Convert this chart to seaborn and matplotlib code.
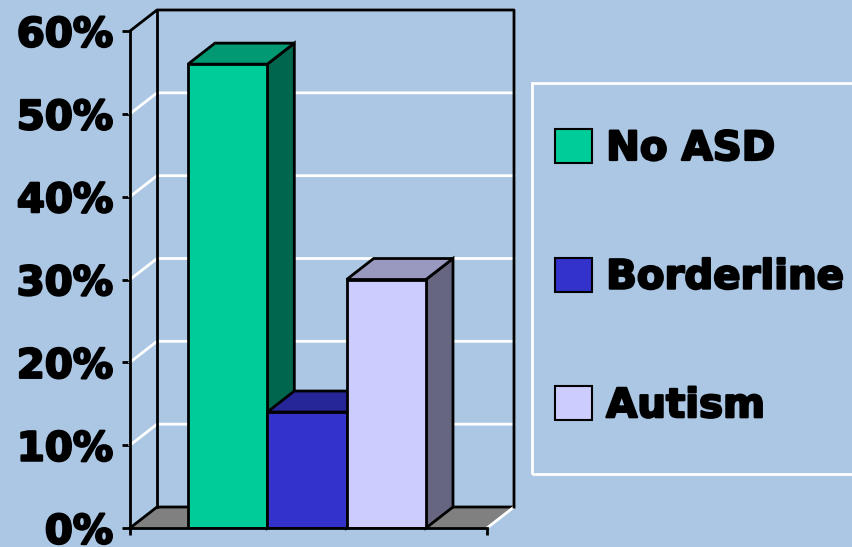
import matplotlib
matplotlib.use("Agg")
import matplotlib.pyplot as plt
import matplotlib.patheffects as pe
from matplotlib.patches import Patch, Polygon, Rectangle
import pandas as pd
import seaborn as sns

CATEGORIES = ["No ASD", "Borderline", "Autism"]
SHARES = [0.56, 0.14, 0.30]
FRONT_COLORS = ["#00CC99", "#3333CC", "#CCCCFF"]
SIDE_COLORS = ["#00664C", "#1A1A66", "#666680"]
TOP_COLORS = ["#009973", "#262699", "#9999BF"]
Y_TICKS = [0.0, 0.1, 0.2, 0.3, 0.4, 0.5, 0.6]
Y_TICK_LABELS = ["0%", "10%", "20%", "30%", "40%", "50%", "60%"]

BG = "#ABC7E4"
DEPTH = (27, 21)  # 3D depth offset in pixels (right, up)
FONT = {"family": "DejaVu Sans", "weight": "bold", "size": 29}
HEAVY = [pe.withStroke(linewidth=1.6, foreground="black")]

sns.set_style("white")
plt.rcParams["font.family"] = ["DejaVu Sans"]
plt.rcParams["text.color"] = "black"

fig = plt.figure(figsize=(8.52, 5.47), dpi=100)
fig.patch.set_facecolor(BG)
W, H = 852, 547
ax = fig.add_axes([130 / W, (H - 528) / H, (487 - 130) / W, (528 - 31) / H])
ax.set_facecolor("none")

df = pd.DataFrame({"group": CATEGORIES, "share": SHARES})
sns.barplot(data=df, x="group", y="share", hue="group", palette=FRONT_COLORS,
            saturation=1, width=1.0, edgecolor="black", linewidth=2, legend=False, ax=ax)

xl, xr = -1.231, 3.269
ax.set_xlim(xl, xr)
ax.set_ylim(0, 0.6)


def back(x, y):
    px = ax.transData.transform((x, y))
    return tuple(ax.transData.inverted().transform((px[0] + DEPTH[0], px[1] + DEPTH[1])))


def line(pts, color, z, lw=2):
    xs, ys = zip(*pts)
    ax.plot(xs, ys, color=color, lw=lw, zorder=z, clip_on=False, solid_capstyle="projecting")


# floor
floor = Polygon([(xl, 0), (xr, 0), back(xr, 0), back(xl, 0)], closed=True,
                facecolor="#808080", edgecolor="none", zorder=0.5, clip_on=False)
ax.add_patch(floor)
line([(xl, 0), back(xl, 0), back(xr, 0)], "black", 0.7)
line([(xr, 0), back(xr, 0)], "white", 0.7)

# gridlines on side and back walls
for t in Y_TICKS[1:-1]:
    line([(xl, t), back(xl, t), back(xr, t)], "white", 0.6)

# back wall outline
line([(xl, 0.6), back(xl, 0.6), back(xr, 0.6), back(xr, 0)], "black", 0.8)
line([back(xl, 0), back(xl, 0.6)], "black", 0.8)

# 3D faces of the bars, built from the seaborn bar patches
for i, bar in enumerate(ax.patches[:len(CATEGORIES)]):
    x0 = bar.get_x()
    x1 = x0 + bar.get_width()
    h = bar.get_height()
    bar.set_zorder(12 + 3 * i)
    side = Polygon([(x1, 0), (x1, h), back(x1, h), back(x1, 0)], closed=True,
                   facecolor=SIDE_COLORS[i], edgecolor="black", lw=2,
                   zorder=10 + 3 * i, clip_on=False, joinstyle="miter")
    top = Polygon([(x0, h), (x1, h), back(x1, h), back(x0, h)], closed=True,
                  facecolor=TOP_COLORS[i], edgecolor="black", lw=2,
                  zorder=11 + 3 * i, clip_on=False, joinstyle="miter")
    ax.add_patch(side)
    ax.add_patch(top)

for s in ["top", "right"]:
    ax.spines[s].set_visible(False)
for s in ["left", "bottom"]:
    ax.spines[s].set_color("black")
    ax.spines[s].set_linewidth(2)
    ax.spines[s].set_zorder(30)

ax.set_yticks(Y_TICKS)
ax.set_yticklabels(Y_TICK_LABELS, fontdict=FONT, color="black")
for lab in ax.get_yticklabels():
    lab.set_path_effects(HEAVY)
ax.set_xticks([xl, xr])
ax.set_xticklabels(["", ""])
ax.tick_params(axis="y", direction="out", length=5.8, width=2, color="black", pad=6.5, left=True)
ax.tick_params(axis="x", direction="out", length=5, width=2, color="black", bottom=True)
ax.set_xlabel("")
ax.set_ylabel("")

# legend
frame = Rectangle((532 / W, (H - 474) / H), 0.45, (474 - 83) / H, transform=fig.transFigure,
                  facecolor="none", edgecolor="white", lw=2, clip_on=False)
fig.add_artist(frame)
handles = [Patch(facecolor=c, edgecolor="black", lw=1.5) for c in FRONT_COLORS]
leg = fig.legend(handles, CATEGORIES, loc="upper left", bbox_to_anchor=(555 / W, (H - 129) / H),
                 frameon=False, prop=FONT, handlelength=0.92, handleheight=0.92,
                 handletextpad=0.35, labelspacing=2.2, borderpad=0, borderaxespad=0)
for txt in leg.get_texts():
    txt.set_color("black")
    txt.set_path_effects(HEAVY)

fig.savefig("out.png", dpi=100, facecolor=BG)
